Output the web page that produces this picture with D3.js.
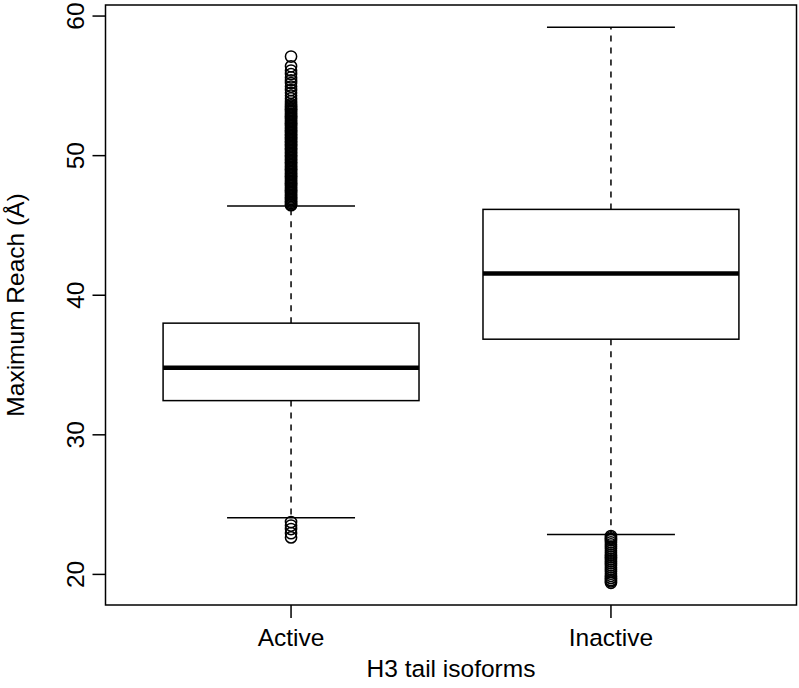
<!DOCTYPE html>
<html>
<head>
<meta charset="utf-8">
<script src="https://cdn.jsdelivr.net/npm/d3@7/dist/d3.min.js"></script>
<style>
  html, body { margin: 0; padding: 0; background: #fff; }
  svg { display: block; }
  text { font-family: "Liberation Sans", Arial, Helvetica, sans-serif; fill: #000; }
</style>
</head>
<body>
<svg id="chart" width="799" height="688"></svg>
<script>
// ---- data ----
const categories = ["Active", "Inactive"];
const whiskerLow  = [24.05, 22.85];
const q1          = [32.45, 36.85];
const medians     = [34.8, 41.55];
const q3          = [38.0, 46.15];
const whiskerHigh = [46.4, 59.2];
const outliersActive = [
  57.1, 56.4, 56.1, 55.85, 55.6, 55.4, 55.2, 54.95, 54.7, 54.5, 54.3, 54.1, 53.9,
  53.7, 53.6, 53.5, 53.4, 53.3, 53.2, 53.1, 53.0, 52.9, 52.8, 52.7, 52.6, 52.5,
  52.4, 52.3, 52.2, 52.1, 52.0, 51.9, 51.8, 51.7, 51.6, 51.5, 51.4, 51.3, 51.2,
  51.1, 51.0, 50.9, 50.8, 50.7, 50.6, 50.5, 50.4, 50.3, 50.2, 50.1, 50.0, 49.9,
  49.8, 49.7, 49.6, 49.5, 49.4, 49.3, 49.2, 49.1, 49.0, 48.9, 48.8, 48.7, 48.6,
  48.5, 48.4, 48.3, 48.2, 48.1, 48.0, 47.9, 47.8, 47.7, 47.6, 47.5, 47.4, 47.3,
  47.2, 47.1, 47.0, 46.9, 46.8, 46.7, 46.6, 46.5, 46.45,
  23.75, 23.5, 23.25, 22.95, 22.65
];
const outliersInactive = [
  22.75, 22.65, 22.55, 22.45, 22.3, 22.15, 22.0, 21.85, 21.7, 21.55, 21.4, 21.25,
  21.1, 20.95, 20.8, 20.65, 20.5, 20.35, 20.2, 20.05, 19.9, 19.75, 19.6, 19.5, 19.4
];
const outliers = [outliersActive, outliersInactive];
const yTicks = [20, 30, 40, 50, 60];
const xTitle = "H3 tail isoforms";
const yTitle = "Maximum Reach (Å)";

// ---- layout ----
const svg = d3.select("#chart");
const plot = { left: 105.5, right: 796.5, top: 5, bottom: 605 };
const fs = 24.5;

const allVals = whiskerLow.concat(whiskerHigh, ...outliers);
const lo = d3.min(allVals), hi = d3.max(allVals);
const pad = (hi - lo) * 0.04;
const y = d3.scaleLinear().domain([lo - pad, hi + pad]).range([plot.bottom, plot.top]);
const x = d3.scaleLinear().domain([0.42, 2.58]).range([plot.left, plot.right]);
const boxHalf = 0.4, capHalf = 0.2;

const g = svg.append("g");

categories.forEach((c, i) => {
  const cx = i + 1;
  // whiskers (dashed)
  g.append("line").attr("x1", x(cx)).attr("x2", x(cx))
    .attr("y1", y(q3[i])).attr("y2", y(whiskerHigh[i]))
    .attr("stroke", "#000").attr("stroke-width", 1.5).attr("stroke-dasharray", "6,6");
  g.append("line").attr("x1", x(cx)).attr("x2", x(cx))
    .attr("y1", y(q1[i])).attr("y2", y(whiskerLow[i]))
    .attr("stroke", "#000").attr("stroke-width", 1.5).attr("stroke-dasharray", "6,6");
  // caps
  [whiskerHigh[i], whiskerLow[i]].forEach(v => {
    g.append("line").attr("x1", x(cx - capHalf)).attr("x2", x(cx + capHalf))
      .attr("y1", y(v)).attr("y2", y(v))
      .attr("stroke", "#000").attr("stroke-width", 1.5);
  });
  // box
  g.append("rect").attr("x", x(cx - boxHalf)).attr("y", y(q3[i]))
    .attr("width", x(cx + boxHalf) - x(cx - boxHalf))
    .attr("height", y(q1[i]) - y(q3[i]))
    .attr("fill", "#fff").attr("stroke", "#000").attr("stroke-width", 1.5);
  // median
  g.append("line").attr("x1", x(cx - boxHalf)).attr("x2", x(cx + boxHalf))
    .attr("y1", y(medians[i])).attr("y2", y(medians[i]))
    .attr("stroke", "#000").attr("stroke-width", 4.5);
  // outliers
  g.selectAll(null).data(outliers[i]).enter().append("circle")
    .attr("cx", x(cx)).attr("cy", d => y(d)).attr("r", 5.6)
    .attr("fill", "none").attr("stroke", "#000").attr("stroke-width", 1.5);
});

// frame
svg.append("rect").attr("x", plot.left).attr("y", plot.top)
  .attr("width", plot.right - plot.left).attr("height", plot.bottom - plot.top)
  .attr("fill", "none").attr("stroke", "#000").attr("stroke-width", 1.5);

// y axis ticks
yTicks.forEach(t => {
  svg.append("line").attr("x1", plot.left - 13).attr("x2", plot.left)
    .attr("y1", y(t)).attr("y2", y(t)).attr("stroke", "#000").attr("stroke-width", 1.5);
  svg.append("text").attr("transform", `translate(${84},${y(t)}) rotate(-90)`)
    .attr("text-anchor", "middle").attr("font-size", fs).text(t);
});
// x axis ticks
categories.forEach((c, i) => {
  svg.append("line").attr("x1", x(i + 1)).attr("x2", x(i + 1))
    .attr("y1", plot.bottom).attr("y2", plot.bottom + 13)
    .attr("stroke", "#000").attr("stroke-width", 1.5);
  svg.append("text").attr("x", x(i + 1)).attr("y", 646)
    .attr("text-anchor", "middle").attr("font-size", fs).text(c);
});
// titles
svg.append("text").attr("x", (plot.left + plot.right) / 2).attr("y", 677)
  .attr("text-anchor", "middle").attr("font-size", fs).text(xTitle);
svg.append("text").attr("transform", `translate(24,${(plot.top + plot.bottom) / 2}) rotate(-90)`)
  .attr("text-anchor", "middle").attr("font-size", fs).text(yTitle);
</script>
</body>
</html>
